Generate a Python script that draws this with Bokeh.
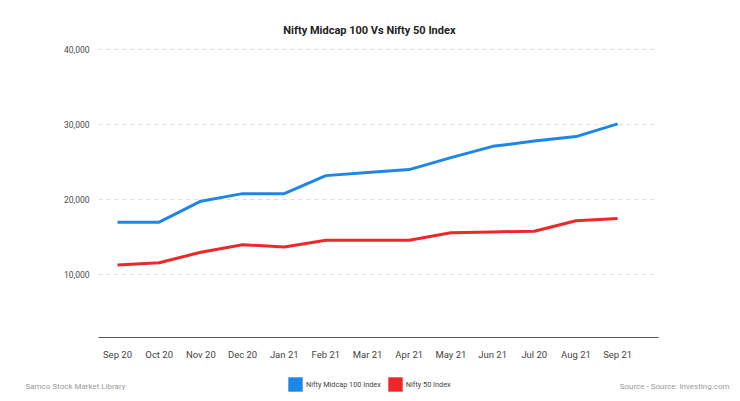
from bokeh.plotting import figure
from bokeh.layouts import column
from bokeh.models import (FixedTicker, NumeralTickFormatter, Label, Legend, LegendItem,
                          ColumnDataSource, Range1d, Title)
from bokeh.embed import file_html
from bokeh.resources import INLINE

months = ["Sep 20", "Oct 20", "Nov 20", "Dec 20", "Jan 21", "Feb 21", "Mar 21",
          "Apr 21", "May 21", "Jun 21", "Jul 20", "Aug 21", "Sep 21"]
midcap = [17000, 17000, 19800, 20800, 20800, 23200, 23600, 24000, 25600, 27100, 27800, 28400, 30100]
nifty50 = [11300, 11600, 13000, 14000, 13700, 14600, 14600, 14600, 15600, 15700, 15800, 17200, 17500]
y_ticks = [10000, 20000, 30000, 40000]
series_names = ["Nifty Midcap 100 Index", "Nifty 50 Index"]

FONT = "Roboto"
BLUE = "#1E87E6"
RED = "#EE2828"

idx = list(range(len(months)))
src = ColumnDataSource(dict(x=idx, mid=midcap, n50=nifty50))

p = figure(width=740, height=362, output_backend="svg", toolbar_location=None,
           x_range=Range1d(-0.456, 12.98), y_range=Range1d(1640, 40131),
           min_border_left=98, min_border_right=82, min_border_top=48, min_border_bottom=20)
p.outline_line_color = None
p.frame_align = False

p.add_layout(Title(text="Nifty Midcap 100 Vs Nifty 50 Index", align="right", offset=203,
                   text_font=FONT, text_font_size="11px", text_font_style="bold",
                   text_color="#222222", standoff=24), "above")

p.line("x", "mid", source=src, line_color=BLUE, line_width=3)
p.line("x", "n50", source=src, line_color=RED, line_width=3)

# axes
p.xaxis.ticker = FixedTicker(ticks=idx)
p.xaxis.major_label_overrides = {i: m for i, m in enumerate(months)}
p.xaxis.major_tick_line_color = None
p.xaxis.minor_tick_line_color = None
p.xaxis.axis_line_color = "#555555"
p.xaxis.major_label_text_font = FONT
p.xaxis.major_label_text_font_size = "9.5px"
p.xaxis.major_label_text_color = "#444444"
p.xaxis.major_label_standoff = 5

p.yaxis.ticker = FixedTicker(ticks=y_ticks)
p.yaxis.formatter = NumeralTickFormatter(format="0,0")
p.yaxis.axis_line_color = None
p.yaxis.major_tick_line_color = None
p.yaxis.minor_tick_line_color = None
p.yaxis.major_label_text_font = FONT
p.yaxis.major_label_text_font_size = "8.5px"
p.yaxis.major_label_text_color = "#4a4a4a"
p.yaxis.major_label_standoff = 3

p.xgrid.grid_line_color = None
p.ygrid.grid_line_color = "#dddddd"
p.ygrid.grid_line_dash = "4 4"
p.ygrid.grid_line_width = 1

# footer strip: legend and source notes
f = figure(width=740, height=38, output_backend="svg", toolbar_location=None,
           x_range=Range1d(0, 740), y_range=Range1d(400, 362),
           x_axis_type=None, y_axis_type=None, min_border=0)
f.outline_line_color = None
f.frame_align = False
f.grid.visible = False

f.add_layout(Label(x=25, y=386, text="Samco Stock Market Library",
                   text_font=FONT, text_font_size="8px", text_color="#999999",
                   text_align="left", text_baseline="middle"))
f.add_layout(Label(x=731, y=386, text="Source -  Source: Investing.com",
                   text_font=FONT, text_font_size="8px", text_color="#999999",
                   text_align="right", text_baseline="middle"))

# legend proxies (a single off-screen point each, so the swatch has a colour)
r1 = f.rect(x=[-1000], y=[-1000], width=1, height=1, fill_color=BLUE, line_color=None)
r2 = f.rect(x=[-1000], y=[-1000], width=1, height=1, fill_color=RED, line_color=None)
legend = Legend(items=[LegendItem(label=series_names[0], renderers=[r1]),
                       LegendItem(label=series_names[1], renderers=[r2])],
                orientation="horizontal", location=(286, 7), margin=0, padding=0,
                glyph_width=18, glyph_height=18, label_height=18, label_width=0,
                label_standoff=2, spacing=5,
                label_text_font=FONT, label_text_font_size="7.3px",
                label_text_color="#444444", border_line_color=None,
                background_fill_alpha=0)
f.add_layout(legend, "center")

layout = column(p, f, spacing=0)
open("out.html", "w").write(file_html(layout, INLINE))
